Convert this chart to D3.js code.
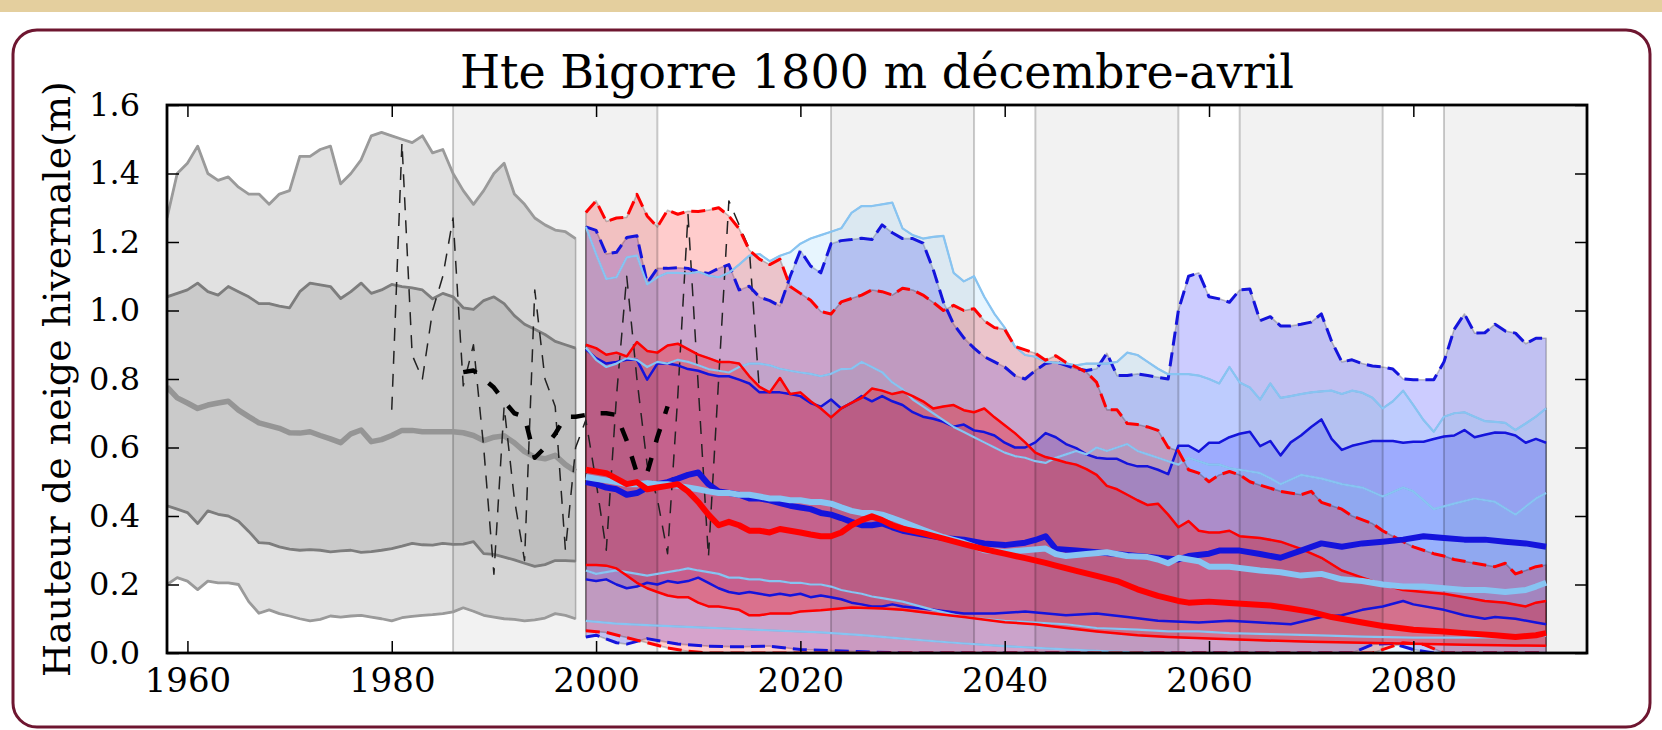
<!DOCTYPE html>
<html>
<head>
<meta charset="utf-8">
<script src="https://cdn.jsdelivr.net/npm/d3@7"></script>
<style>
  html, body { margin: 0; padding: 0; background: #fff; }
  svg { display: block; }
  text { font-family: "DejaVu Serif", serif; fill: #000; }
</style>
</head>
<body>
<svg id="chart" width="1662" height="730"></svg>
<script>
// Hte Bigorre 1800 m - snow depth, reanalysis + projections
// Data: [year, metres]

const xTicks = [1960, 1980, 2000, 2020, 2040, 2060, 2080];
const yTicks = [0, 0.2, 0.4, 0.6, 0.8, 1.0, 1.2, 1.4, 1.6];
const bandSpans = [[1986, 2006], [2023, 2037], [2043, 2057], [2063, 2077], [2083, 2100]];

// reanalysis 1958-1998 (grey)
const histMax = [[1958,1.27],[1959,1.40],[1960,1.43],[1961,1.48],[1962,1.40],[1963,1.38],[1964,1.39],[1965,1.36],[1966,1.34],[1967,1.34],[1968,1.31],[1969,1.34],[1970,1.35],[1971,1.45],[1972,1.45],[1973,1.47],[1974,1.48],[1975,1.37],[1976,1.40],[1977,1.44],[1978,1.51],[1979,1.52],[1980,1.51],[1981,1.50],[1982,1.49],[1983,1.51],[1984,1.46],[1985,1.47],[1986,1.40],[1987,1.35],[1988,1.31],[1989,1.35],[1990,1.40],[1991,1.43],[1992,1.34],[1993,1.31],[1994,1.27],[1995,1.25],[1996,1.235],[1997,1.23],[1998,1.21]];
const histQ75 = [[1958,1.04],[1959,1.05],[1960,1.06],[1961,1.08],[1962,1.055],[1963,1.045],[1964,1.07],[1965,1.055],[1966,1.04],[1967,1.02],[1968,1.02],[1969,1.013],[1970,1.008],[1971,1.055],[1972,1.08],[1973,1.075],[1974,1.07],[1975,1.035],[1976,1.055],[1977,1.08],[1978,1.05],[1979,1.06],[1980,1.076],[1981,1.07],[1982,1.066],[1983,1.06],[1984,1.034],[1985,1.05],[1986,1.04],[1987,1.008],[1988,1.003],[1989,1.029],[1990,1.04],[1991,1.02],[1992,0.985],[1993,0.96],[1994,0.945],[1995,0.93],[1996,0.91],[1997,0.90],[1998,0.89]];
const histMed = [[1958,0.777],[1959,0.745],[1960,0.73],[1961,0.714],[1962,0.724],[1963,0.73],[1964,0.735],[1965,0.709],[1966,0.69],[1967,0.672],[1968,0.664],[1969,0.656],[1970,0.643],[1971,0.642],[1972,0.646],[1973,0.635],[1974,0.625],[1975,0.614],[1976,0.64],[1977,0.651],[1978,0.617],[1979,0.623],[1980,0.635],[1981,0.65],[1982,0.65],[1983,0.646],[1984,0.646],[1985,0.646],[1986,0.646],[1987,0.643],[1988,0.635],[1989,0.62],[1990,0.63],[1991,0.634],[1992,0.614],[1993,0.588],[1994,0.572],[1995,0.567],[1996,0.577],[1997,0.55],[1998,0.53]];
const histQ25 = [[1958,0.43],[1959,0.42],[1960,0.41],[1961,0.378],[1962,0.415],[1963,0.405],[1964,0.40],[1965,0.385],[1966,0.355],[1967,0.322],[1968,0.32],[1969,0.31],[1970,0.303],[1971,0.30],[1972,0.302],[1973,0.30],[1974,0.295],[1975,0.298],[1976,0.30],[1977,0.294],[1978,0.296],[1979,0.30],[1980,0.305],[1981,0.312],[1982,0.32],[1983,0.316],[1984,0.315],[1985,0.32],[1986,0.317],[1987,0.318],[1988,0.325],[1989,0.29],[1990,0.288],[1991,0.28],[1992,0.272],[1993,0.262],[1994,0.253],[1995,0.258],[1996,0.27],[1997,0.27],[1998,0.268]];
const histMin = [[1958,0.20],[1959,0.22],[1960,0.21],[1961,0.185],[1962,0.21],[1963,0.205],[1964,0.205],[1965,0.20],[1966,0.15],[1967,0.116],[1968,0.126],[1969,0.115],[1970,0.108],[1971,0.10],[1972,0.094],[1973,0.098],[1974,0.108],[1975,0.105],[1976,0.108],[1977,0.11],[1978,0.105],[1979,0.10],[1980,0.094],[1981,0.103],[1982,0.107],[1983,0.11],[1984,0.112],[1985,0.115],[1986,0.12],[1987,0.132],[1988,0.122],[1989,0.11],[1990,0.105],[1991,0.10],[1992,0.098],[1993,0.094],[1994,0.097],[1995,0.102],[1996,0.115],[1997,0.11],[1998,0.10]];

// observations (thin = yearly, thick = smoothed)
const obsYearly = [[1980,0.71],[1981,1.49],[1982,0.87],[1983,0.80],[1984,1.00],[1985,1.10],[1986,1.27],[1987,0.78],[1988,0.90],[1989,0.60],[1990,0.23],[1991,0.72],[1992,0.45],[1993,0.27],[1994,1.06],[1995,0.80],[1996,0.72],[1997,0.30],[1998,0.60],[1999,0.68],[2000,0.50],[2001,0.30],[2002,0.75],[2003,1.10],[2004,0.80],[2005,0.55],[2006,0.45],[2007,0.29],[2008,0.75],[2009,1.28],[2010,0.78],[2011,0.28],[2012,0.80],[2013,1.32],[2014,1.25],[2015,1.18],[2016,0.76]];
const obsSmooth = [[1987,0.82],[1988,0.825],[1989,0.80],[1990,0.775],[1991,0.735],[1992,0.70],[1993,0.69],[1994,0.57],[1995,0.60],[1996,0.64],[1997,0.69],[1998,0.69],[1999,0.695],[2000,0.70],[2001,0.70],[2002,0.695],[2003,0.62],[2004,0.525],[2005,0.525],[2006,0.63],[2007,0.72]];

// red scenario
const redMax = [[1999,1.286],[2000,1.32],[2001,1.26],[2002,1.27],[2003,1.272],[2004,1.339],[2005,1.276],[2006,1.244],[2007,1.293],[2008,1.281],[2009,1.29],[2010,1.289],[2011,1.293],[2012,1.30],[2013,1.276],[2014,1.239],[2015,1.176],[2016,1.15],[2017,1.134],[2018,1.15],[2019,1.07],[2020,1.05],[2021,1.03],[2022,0.997],[2023,0.99],[2024,1.025],[2025,1.035],[2026,1.045],[2027,1.06],[2028,1.055],[2029,1.045],[2030,1.065],[2031,1.06],[2032,1.045],[2033,1.024],[2034,1.0],[2035,1.015],[2036,1.0],[2037,1.005],[2038,0.97],[2039,0.95],[2040,0.945],[2041,0.895],[2042,0.885],[2043,0.875],[2044,0.855],[2045,0.868],[2046,0.848],[2047,0.835],[2048,0.82],[2049,0.79],[2050,0.71],[2051,0.71],[2052,0.67],[2053,0.667],[2054,0.66],[2055,0.65],[2056,0.60],[2057,0.59],[2058,0.535],[2059,0.525],[2060,0.50],[2061,0.52],[2062,0.53],[2063,0.52],[2064,0.50],[2065,0.49],[2067,0.472],[2069,0.462],[2070,0.472],[2071,0.44],[2073,0.42],[2074,0.40],[2076,0.378],[2077,0.357],[2079,0.325],[2080,0.31],[2082,0.29],[2083,0.283],[2084,0.273],[2086,0.262],[2088,0.252],[2089,0.262],[2090,0.231],[2091,0.241],[2092,0.252],[2093,0.257]];
const redQ75 = [[1999,0.90],[2000,0.89],[2001,0.871],[2002,0.877],[2003,0.866],[2004,0.908],[2005,0.882],[2006,0.877],[2007,0.898],[2008,0.903],[2009,0.887],[2010,0.871],[2011,0.861],[2012,0.85],[2013,0.85],[2014,0.845],[2015,0.808],[2016,0.777],[2017,0.761],[2018,0.803],[2019,0.756],[2020,0.761],[2021,0.735],[2022,0.714],[2023,0.688],[2024,0.714],[2025,0.73],[2026,0.745],[2027,0.772],[2028,0.766],[2029,0.756],[2030,0.763],[2031,0.75],[2032,0.735],[2033,0.714],[2034,0.72],[2035,0.724],[2036,0.709],[2037,0.703],[2038,0.714],[2039,0.688],[2040,0.665],[2041,0.642],[2042,0.615],[2043,0.585],[2044,0.572],[2045,0.565],[2046,0.556],[2047,0.55],[2048,0.537],[2049,0.52],[2050,0.488],[2051,0.478],[2052,0.462],[2053,0.446],[2054,0.432],[2055,0.436],[2056,0.404],[2057,0.367],[2058,0.385],[2059,0.357],[2060,0.352],[2061,0.352],[2062,0.357],[2063,0.341],[2065,0.336],[2067,0.325],[2069,0.304],[2071,0.278],[2073,0.241],[2075,0.22],[2077,0.20],[2079,0.184],[2081,0.178],[2083,0.173],[2085,0.163],[2087,0.152],[2089,0.147],[2091,0.136],[2092,0.147],[2093,0.152]];
const redMed = [[1999,0.535],[2000,0.53],[2001,0.525],[2002,0.509],[2003,0.493],[2004,0.499],[2005,0.478],[2006,0.483],[2007,0.488],[2008,0.493],[2009,0.472],[2010,0.441],[2011,0.404],[2012,0.373],[2013,0.383],[2014,0.373],[2015,0.357],[2016,0.357],[2017,0.352],[2018,0.362],[2019,0.357],[2020,0.352],[2021,0.346],[2022,0.341],[2023,0.341],[2024,0.352],[2025,0.373],[2026,0.388],[2027,0.399],[2028,0.388],[2029,0.373],[2030,0.363],[2032,0.35],[2034,0.334],[2036,0.318],[2038,0.303],[2040,0.29],[2042,0.277],[2044,0.263],[2045,0.255],[2047,0.24],[2049,0.225],[2051,0.21],[2053,0.186],[2055,0.167],[2057,0.152],[2058,0.147],[2060,0.15],[2062,0.146],[2064,0.142],[2066,0.139],[2068,0.13],[2070,0.12],[2072,0.105],[2075,0.089],[2077,0.079],[2080,0.068],[2083,0.063],[2085,0.058],[2088,0.052],[2090,0.047],[2092,0.052],[2093,0.058]];
const redQ25 = [[1999,0.257],[2000,0.257],[2001,0.255],[2002,0.247],[2003,0.226],[2004,0.205],[2005,0.189],[2006,0.178],[2007,0.168],[2008,0.163],[2009,0.163],[2010,0.147],[2011,0.136],[2012,0.136],[2013,0.131],[2014,0.126],[2015,0.11],[2016,0.11],[2017,0.115],[2018,0.115],[2019,0.115],[2020,0.121],[2022,0.125],[2025,0.133],[2028,0.13],[2030,0.126],[2033,0.115],[2036,0.105],[2040,0.09],[2043,0.084],[2046,0.073],[2049,0.063],[2053,0.052],[2056,0.047],[2060,0.042],[2065,0.037],[2070,0.033],[2075,0.03],[2080,0.027],[2085,0.024],[2090,0.022],[2093,0.021]];
const redMin = [[1999,0.065],[2001,0.06],[2003,0.045],[2005,0.03],[2007,0.015],[2009,0.005],[2011,0],[2076,0],[2079,0.03],[2081,0.025],[2083,0],[2093,0]];

// dark blue scenario
const blueMax = [[1999,1.244],[2000,1.234],[2001,1.165],[2002,1.17],[2003,1.213],[2004,1.218],[2005,1.08],[2006,1.123],[2007,1.123],[2008,1.125],[2009,1.123],[2010,1.113],[2011,1.108],[2012,1.123],[2013,1.134],[2014,1.06],[2015,1.071],[2016,1.039],[2017,1.029],[2018,1.013],[2019,1.10],[2020,1.175],[2021,1.13],[2022,1.11],[2023,1.195],[2024,1.204],[2025,1.207],[2026,1.211],[2027,1.207],[2028,1.25],[2029,1.227],[2030,1.21],[2031,1.21],[2032,1.197],[2033,1.12],[2034,1.025],[2035,0.96],[2036,0.92],[2037,0.89],[2038,0.865],[2039,0.85],[2040,0.835],[2041,0.81],[2042,0.80],[2043,0.825],[2044,0.845],[2045,0.85],[2046,0.84],[2047,0.83],[2048,0.825],[2049,0.83],[2050,0.875],[2051,0.81],[2052,0.81],[2053,0.815],[2054,0.81],[2055,0.805],[2056,0.80],[2057,1.0],[2058,1.10],[2059,1.11],[2060,1.04],[2061,1.034],[2062,1.024],[2063,1.06],[2064,1.063],[2065,0.97],[2066,0.982],[2067,0.955],[2068,0.955],[2069,0.96],[2070,0.966],[2071,0.99],[2072,0.91],[2073,0.85],[2074,0.856],[2075,0.845],[2076,0.838],[2077,0.835],[2078,0.829],[2079,0.80],[2080,0.798],[2081,0.798],[2082,0.798],[2083,0.85],[2084,0.945],[2085,0.99],[2086,0.934],[2087,0.935],[2088,0.96],[2089,0.94],[2090,0.934],[2091,0.903],[2092,0.919],[2093,0.919]];
const blueQ75 = [[1999,0.887],[2000,0.861],[2001,0.845],[2002,0.85],[2003,0.856],[2004,0.856],[2005,0.798],[2006,0.845],[2007,0.845],[2008,0.84],[2009,0.829],[2010,0.824],[2011,0.814],[2012,0.808],[2013,0.808],[2014,0.798],[2015,0.787],[2016,0.761],[2017,0.761],[2018,0.761],[2019,0.756],[2020,0.75],[2021,0.73],[2022,0.719],[2023,0.74],[2024,0.714],[2025,0.73],[2026,0.75],[2027,0.735],[2028,0.75],[2029,0.735],[2030,0.724],[2031,0.703],[2032,0.69],[2033,0.684],[2034,0.675],[2035,0.661],[2036,0.667],[2037,0.65],[2038,0.645],[2039,0.635],[2040,0.614],[2041,0.60],[2042,0.60],[2043,0.615],[2044,0.642],[2045,0.63],[2046,0.61],[2047,0.598],[2048,0.58],[2049,0.57],[2050,0.567],[2051,0.567],[2052,0.553],[2053,0.545],[2054,0.545],[2055,0.535],[2056,0.522],[2057,0.605],[2058,0.605],[2059,0.588],[2060,0.614],[2061,0.614],[2062,0.63],[2063,0.64],[2064,0.646],[2065,0.604],[2066,0.619],[2067,0.577],[2068,0.615],[2069,0.635],[2070,0.66],[2071,0.682],[2072,0.625],[2073,0.593],[2074,0.605],[2075,0.612],[2076,0.619],[2078,0.619],[2079,0.614],[2080,0.617],[2081,0.617],[2082,0.625],[2083,0.632],[2084,0.635],[2085,0.651],[2086,0.63],[2087,0.637],[2088,0.644],[2089,0.643],[2090,0.635],[2091,0.614],[2092,0.625],[2093,0.614]];
const blueMed = [[1999,0.499],[2000,0.493],[2001,0.483],[2002,0.478],[2003,0.462],[2004,0.467],[2005,0.483],[2006,0.493],[2007,0.499],[2008,0.509],[2009,0.52],[2010,0.527],[2011,0.493],[2012,0.472],[2013,0.467],[2014,0.462],[2015,0.451],[2016,0.451],[2017,0.446],[2018,0.438],[2019,0.43],[2020,0.425],[2021,0.42],[2022,0.409],[2023,0.404],[2024,0.394],[2025,0.383],[2026,0.373],[2027,0.373],[2028,0.378],[2029,0.367],[2030,0.357],[2032,0.346],[2034,0.336],[2036,0.331],[2038,0.32],[2040,0.315],[2042,0.322],[2043,0.33],[2044,0.341],[2045,0.304],[2047,0.299],[2049,0.294],[2051,0.289],[2053,0.283],[2055,0.278],[2057,0.273],[2058,0.283],[2060,0.29],[2061,0.299],[2063,0.299],[2065,0.289],[2067,0.278],[2069,0.299],[2071,0.32],[2073,0.31],[2075,0.32],[2077,0.325],[2079,0.331],[2081,0.341],[2083,0.336],[2085,0.331],[2087,0.331],[2089,0.325],[2091,0.32],[2093,0.31]];
const blueQ25 = [[1999,0.215],[2000,0.21],[2001,0.215],[2002,0.20],[2003,0.189],[2004,0.194],[2005,0.205],[2006,0.20],[2007,0.21],[2008,0.205],[2009,0.21],[2010,0.22],[2011,0.205],[2012,0.189],[2013,0.178],[2014,0.173],[2015,0.178],[2016,0.173],[2017,0.168],[2018,0.173],[2019,0.168],[2020,0.173],[2021,0.163],[2022,0.168],[2023,0.163],[2024,0.157],[2025,0.147],[2026,0.142],[2027,0.136],[2028,0.136],[2029,0.142],[2030,0.136],[2033,0.126],[2036,0.115],[2039,0.115],[2042,0.121],[2046,0.11],[2049,0.115],[2052,0.105],[2055,0.094],[2059,0.089],[2062,0.094],[2065,0.089],[2068,0.084],[2071,0.105],[2073,0.11],[2075,0.126],[2077,0.136],[2079,0.152],[2080,0.142],[2083,0.126],[2085,0.11],[2087,0.10],[2088,0.105],[2090,0.10],[2092,0.089],[2093,0.084]];
const blueMin = [[1999,0.047],[2000,0.052],[2002,0.03],[2003,0.026],[2005,0.042],[2008,0.026],[2011,0.02],[2014,0.018],[2017,0.02],[2020,0.01],[2025,0.005],[2030,0],[2074,0],[2076,0.025],[2078,0.028],[2080,0.01],[2082,0],[2093,0]];

// light blue scenario
const lbMax = [[1999,1.244],[2000,1.165],[2001,1.092],[2002,1.097],[2003,1.155],[2004,1.16],[2005,1.076],[2006,1.097],[2007,1.11],[2008,1.11],[2009,1.108],[2010,1.113],[2011,1.102],[2012,1.097],[2013,1.11],[2014,1.134],[2015,1.16],[2016,1.165],[2017,1.144],[2018,1.16],[2019,1.17],[2020,1.195],[2021,1.21],[2022,1.22],[2023,1.23],[2024,1.24],[2025,1.285],[2026,1.305],[2027,1.305],[2028,1.31],[2029,1.315],[2030,1.24],[2031,1.22],[2032,1.21],[2033,1.215],[2034,1.218],[2035,1.11],[2036,1.085],[2037,1.10],[2038,1.04],[2039,0.99],[2040,0.95],[2041,0.895],[2042,0.87],[2043,0.865],[2044,0.85],[2045,0.848],[2046,0.845],[2047,0.84],[2048,0.845],[2049,0.845],[2050,0.845],[2051,0.85],[2052,0.877],[2053,0.87],[2054,0.85],[2055,0.83],[2056,0.814],[2057,0.814],[2058,0.814],[2059,0.81],[2060,0.80],[2061,0.787],[2062,0.835],[2063,0.79],[2064,0.775],[2065,0.74],[2066,0.787],[2067,0.745],[2068,0.75],[2069,0.756],[2070,0.761],[2071,0.764],[2072,0.766],[2073,0.756],[2074,0.766],[2075,0.76],[2076,0.745],[2077,0.714],[2078,0.735],[2079,0.766],[2080,0.724],[2081,0.68],[2082,0.646],[2083,0.69],[2084,0.70],[2085,0.703],[2086,0.69],[2087,0.677],[2088,0.675],[2089,0.672],[2090,0.651],[2091,0.67],[2092,0.69],[2093,0.714]];
const lbQ75 = [[1999,0.892],[2000,0.856],[2001,0.835],[2002,0.845],[2003,0.861],[2004,0.856],[2005,0.835],[2006,0.85],[2007,0.845],[2008,0.856],[2009,0.85],[2010,0.84],[2011,0.829],[2012,0.824],[2013,0.819],[2014,0.835],[2015,0.845],[2016,0.845],[2017,0.84],[2018,0.83],[2019,0.824],[2020,0.819],[2021,0.815],[2022,0.808],[2023,0.815],[2024,0.829],[2025,0.83],[2026,0.85],[2027,0.835],[2028,0.82],[2029,0.79],[2030,0.77],[2031,0.74],[2032,0.72],[2033,0.70],[2034,0.68],[2035,0.66],[2036,0.645],[2037,0.63],[2038,0.615],[2039,0.60],[2040,0.585],[2041,0.575],[2042,0.57],[2043,0.56],[2044,0.555],[2045,0.57],[2046,0.58],[2047,0.59],[2048,0.58],[2049,0.60],[2050,0.59],[2051,0.60],[2052,0.61],[2053,0.59],[2054,0.58],[2055,0.57],[2056,0.56],[2057,0.55],[2058,0.57],[2059,0.56],[2060,0.55],[2061,0.55],[2062,0.54],[2063,0.535],[2065,0.525],[2066,0.51],[2067,0.493],[2069,0.52],[2071,0.509],[2073,0.493],[2075,0.483],[2077,0.457],[2079,0.483],[2080,0.472],[2082,0.42],[2084,0.436],[2086,0.451],[2088,0.441],[2090,0.404],[2092,0.451],[2093,0.467]];
const lbMed = [[1999,0.514],[2000,0.509],[2001,0.504],[2002,0.499],[2003,0.493],[2004,0.493],[2005,0.496],[2006,0.493],[2007,0.493],[2008,0.488],[2009,0.483],[2010,0.478],[2011,0.472],[2012,0.467],[2013,0.467],[2014,0.462],[2015,0.462],[2016,0.457],[2017,0.451],[2018,0.451],[2019,0.446],[2020,0.446],[2021,0.441],[2022,0.441],[2023,0.436],[2024,0.425],[2025,0.415],[2026,0.409],[2027,0.409],[2028,0.404],[2029,0.394],[2030,0.383],[2032,0.36],[2034,0.338],[2036,0.322],[2038,0.30],[2040,0.295],[2042,0.30],[2044,0.305],[2045,0.289],[2046,0.283],[2048,0.289],[2050,0.294],[2052,0.283],[2054,0.28],[2055,0.273],[2056,0.262],[2057,0.278],[2059,0.268],[2060,0.252],[2062,0.252],[2065,0.241],[2067,0.236],[2069,0.226],[2071,0.231],[2073,0.215],[2075,0.21],[2077,0.20],[2079,0.194],[2081,0.194],[2083,0.189],[2085,0.184],[2087,0.184],[2089,0.178],[2091,0.184],[2092,0.194],[2093,0.205]];
const lbQ25 = [[1999,0.241],[2000,0.231],[2001,0.236],[2002,0.241],[2003,0.236],[2004,0.231],[2005,0.226],[2006,0.231],[2007,0.236],[2008,0.241],[2009,0.247],[2010,0.241],[2011,0.236],[2012,0.231],[2013,0.22],[2014,0.22],[2015,0.215],[2016,0.215],[2017,0.21],[2018,0.21],[2019,0.205],[2020,0.205],[2021,0.20],[2022,0.20],[2023,0.194],[2024,0.184],[2025,0.178],[2026,0.173],[2027,0.165],[2028,0.16],[2029,0.155],[2030,0.15],[2033,0.126],[2036,0.105],[2040,0.094],[2043,0.089],[2046,0.084],[2049,0.073],[2053,0.068],[2056,0.063],[2059,0.063],[2062,0.058],[2066,0.055],[2070,0.052],[2075,0.048],[2080,0.045],[2085,0.045],[2090,0.047],[2093,0.05]];
const lbMin = [[1999,0.094],[2002,0.086],[2006,0.08],[2010,0.075],[2014,0.07],[2018,0.065],[2022,0.06],[2026,0.052],[2030,0.042],[2035,0.03],[2040,0.02],[2045,0.012],[2050,0.005],[2055,0],[2093,0]];

// Layout
const plot = { left: 167, top: 105, right: 1587, bottom: 653 };
const colors = { red: "#ff0000", blue: "#1414dc", lb: "#87c4f2", grey: "#808080" };

const svg = d3.select("#chart");

const xScale = d3.scaleLinear().domain([1958, 2097]).range([plot.left, plot.right]);
const yScale = d3.scaleLinear().domain([0, 1.6]).range([plot.bottom, plot.top]);

const line = d3.line()
  .x(d => xScale(d[0]))
  .y(d => yScale(d[1]));

// closed polygon between two series (they may be sampled differently)
function bandPath(upper, lower) {
  const top = line(upper);
  const bottom = line(lower.slice().reverse());
  return top + "L" + bottom.slice(1) + "Z";
}

// page background and frame
svg.append("rect").attr("x", 0).attr("y", 0).attr("width", 1662).attr("height", 12).attr("fill", "#e4cf9e");
svg.append("rect")
  .attr("x", 13).attr("y", 30).attr("width", 1637).attr("height", 697)
  .attr("rx", 24).attr("ry", 24)
  .attr("fill", "#fff").attr("stroke", "#6e1630").attr("stroke-width", 3);

svg.append("clipPath").attr("id", "plot-clip")
  .append("rect")
  .attr("x", plot.left).attr("y", plot.top)
  .attr("width", plot.right - plot.left).attr("height", plot.bottom - plot.top);

const g = svg.append("g").attr("clip-path", "url(#plot-clip)");

// Fills
function addFill(upper, lower, color, alpha) {
  g.append("path")
    .attr("d", bandPath(upper, lower))
    .attr("fill", color)
    .attr("fill-opacity", alpha)
    .attr("stroke", "#000")
    .attr("stroke-opacity", 0.22)
    .attr("stroke-width", 1.6)
    .attr("stroke-linejoin", "round");
}

addFill(histMax, histMin, colors.grey, 0.24);
addFill(histQ75, histQ25, colors.grey, 0.24);

addFill(blueMax, blueMin, "#0000ff", 0.2);
addFill(blueQ75, blueQ25, "#0000ff", 0.2);
addFill(lbMax, lbMin, "#87cefa", 0.2);
addFill(lbQ75, lbQ25, "#87cefa", 0.2);
addFill(redMax, redMin, "#ff0000", 0.2);
addFill(redQ75, redQ25, "#ff0000", 0.3);

// grey time windows
bandSpans.forEach(function(s) {
  g.append("rect")
    .attr("x", xScale(s[0])).attr("y", plot.top)
    .attr("width", xScale(s[1]) - xScale(s[0])).attr("height", plot.bottom - plot.top)
    .attr("fill", "#000").attr("fill-opacity", 0.05);
  s.forEach(function(yr) {
    g.append("line")
      .attr("x1", xScale(yr)).attr("x2", xScale(yr))
      .attr("y1", plot.top).attr("y2", plot.bottom)
      .attr("stroke", "#000").attr("stroke-opacity", 0.2).attr("stroke-width", 2);
  });
});

// Lines
function addLine(data, color, width, dash) {
  g.append("path")
    .datum(data)
    .attr("d", line)
    .attr("fill", "none")
    .attr("stroke", color)
    .attr("stroke-width", width)
    .attr("stroke-linejoin", "round")
    .attr("stroke-dasharray", dash || null);
}

addLine(histMax, "#9a9a9a", 2.8);
addLine(histMin, "#9a9a9a", 2.8);
addLine(histQ75, "#7d7d7d", 2.8);
addLine(histQ25, "#7d7d7d", 2.8);
addLine(histMed, "#959595", 5.5);

addLine(obsYearly, "#222", 1.5, "13,10");
addLine(obsSmooth, "#000", 4.5, "14,16");

addLine(blueMax, colors.blue, 3, "14,7");
addLine(blueMin, colors.blue, 3, "14,7");
addLine(blueQ75, colors.blue, 2.5);
addLine(blueQ25, colors.blue, 2.5);

addLine(lbMax, colors.lb, 2.2);
addLine(lbMin, colors.lb, 2.2);
addLine(lbQ75, colors.lb, 2.2);
addLine(lbQ25, colors.lb, 2.2);

addLine(redMax, colors.red, 3, "14,7");
addLine(redMin, colors.red, 3, "14,7");
addLine(redQ75, colors.red, 2.5);
addLine(redQ25, colors.red, 2.5);

addLine(blueMed, colors.blue, 6);
addLine(lbMed, colors.lb, 6);
addLine(redMed, colors.red, 6);

// Axes (ticks inside, on all four sides)
function styleAxis(size) {
  return function(sel) {
    sel.select(".domain").remove();
    sel.selectAll(".tick line").attr("stroke", "#000").attr("stroke-width", 1.5);
    sel.selectAll(".tick text")
      .attr("font-family", "DejaVu Serif, serif")
      .attr("font-size", size);
  };
}

svg.append("g")
  .attr("transform", `translate(0,${plot.bottom})`)
  .call(d3.axisBottom(xScale).tickValues(xTicks).tickSizeInner(-12).tickSizeOuter(0).tickPadding(15).tickFormat(d3.format("d")))
  .call(styleAxis(34));

svg.append("g")
  .attr("transform", `translate(0,${plot.top})`)
  .call(d3.axisTop(xScale).tickValues(xTicks).tickSizeInner(-12).tickSizeOuter(0).tickFormat(""))
  .call(styleAxis(34));

svg.append("g")
  .attr("transform", `translate(${plot.left},0)`)
  .call(d3.axisLeft(yScale).tickValues(yTicks).tickSizeInner(-12).tickSizeOuter(0).tickPadding(27).tickFormat(d3.format(".1f")))
  .call(styleAxis(32));

svg.append("g")
  .attr("transform", `translate(${plot.right},0)`)
  .call(d3.axisRight(yScale).tickValues(yTicks).tickSizeInner(-12).tickSizeOuter(0).tickFormat(""))
  .call(styleAxis(32));

// spine
svg.append("rect")
  .attr("x", plot.left).attr("y", plot.top)
  .attr("width", plot.right - plot.left).attr("height", plot.bottom - plot.top)
  .attr("fill", "none").attr("stroke", "#000").attr("stroke-width", 2.8);

// Title and y label
svg.append("text")
  .attr("x", (plot.left + plot.right) / 2)
  .attr("y", 88)
  .attr("text-anchor", "middle")
  .attr("font-size", 46)
  .text("Hte Bigorre 1800 m décembre-avril");

svg.append("text")
  .attr("transform", `translate(70,${(plot.top + plot.bottom) / 2}) rotate(-90)`)
  .attr("text-anchor", "middle")
  .attr("font-size", 38)
  .text("Hauteur de neige hivernale(m)");
</script>
</body>
</html>
